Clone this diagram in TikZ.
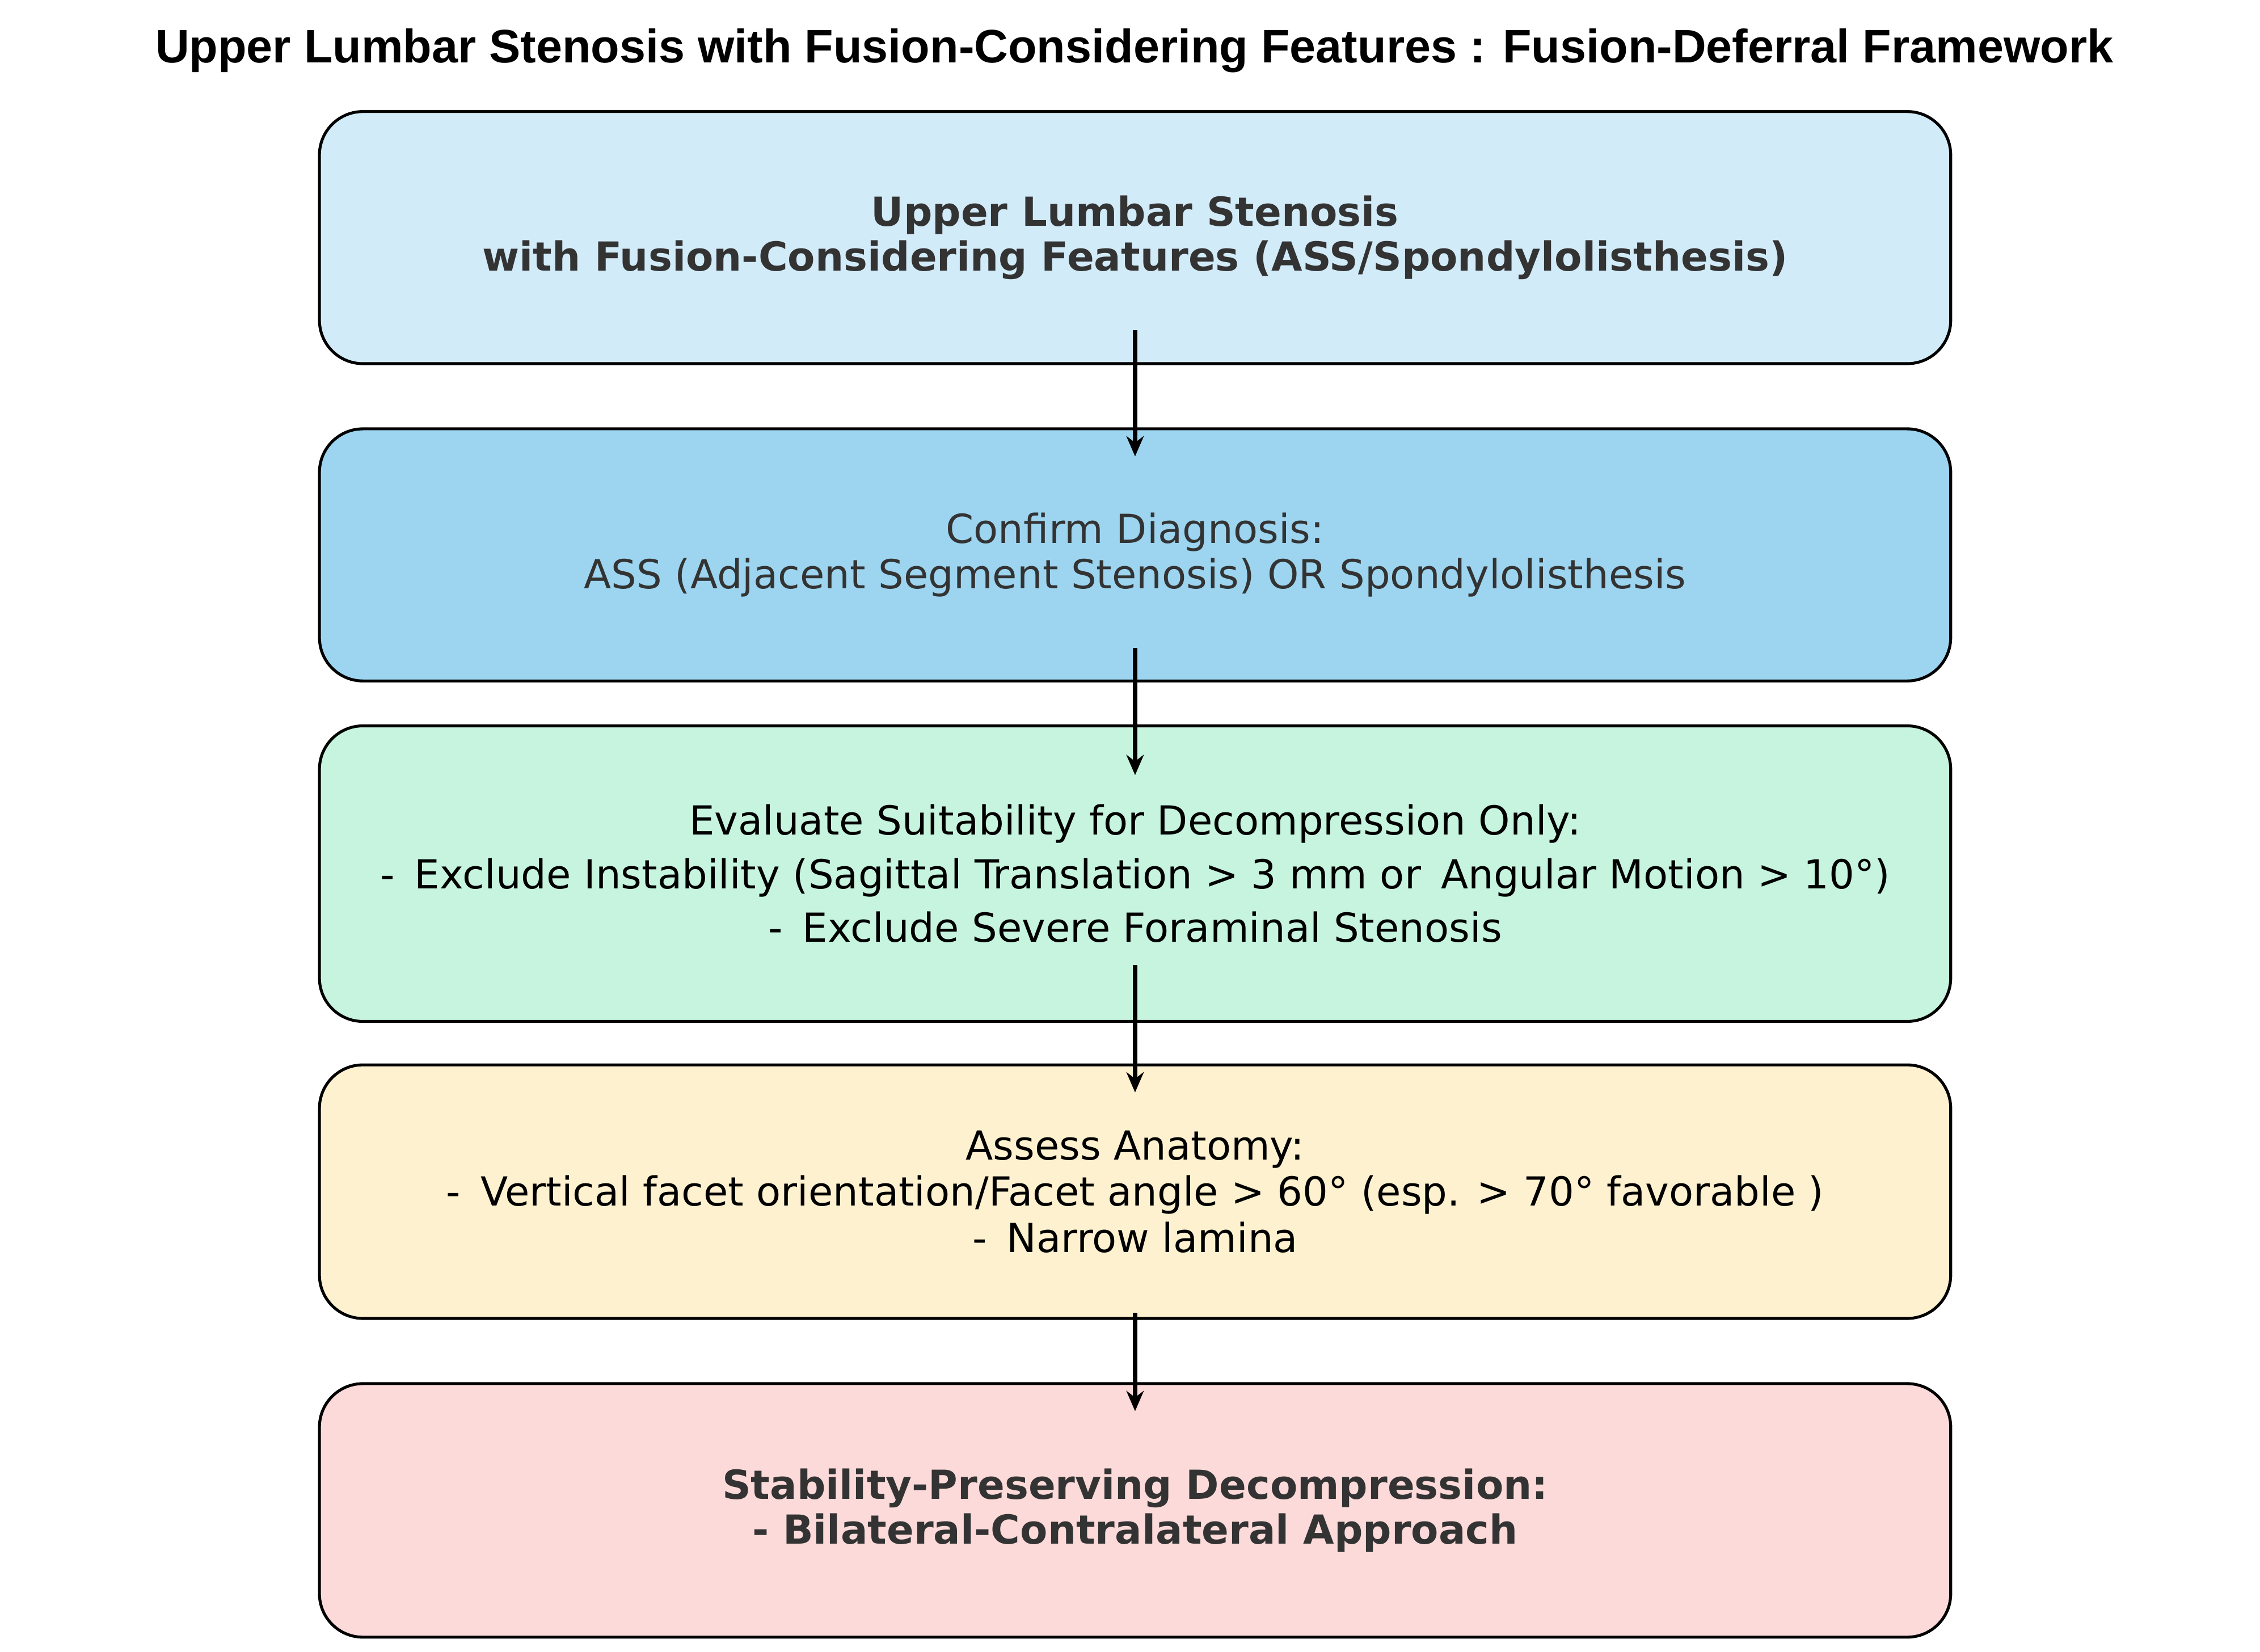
\documentclass[tikz,border=0pt]{standalone}
\usepackage{fontspec}
\setmainfont{DejaVu Sans}
\newfontfamily\titlefont{Liberation Sans}
\usetikzlibrary{arrows.meta}
\definecolor{boxA}{HTML}{D2EBF9}
\definecolor{boxB}{HTML}{9DD5F0}
\definecolor{boxC}{HTML}{C6F4DF}
\definecolor{boxD}{HTML}{FEF1CF}
\definecolor{boxE}{HTML}{FDDADA}
\definecolor{txt}{HTML}{333333}
\tikzset{every picture/.style={line width=1pt},
  stepbox/.style={draw=black, rounded corners=15pt, minimum width=563pt, align=center, font=\fontsize{13.8}{15.5}\selectfont, inner sep=0pt},
  flow/.style={line width=1.6pt, -{Stealth[length=7pt,width=6pt]}}}
\begin{document}
\begin{tikzpicture}[x=0.5pt,y=0.5pt,yscale=-1,xscale=1]
\useasboundingbox (0,0) rectangle (1560,1140);
\node (title) at (783,35) {\titlefont\bfseries\fontsize{16.2}{18}\selectfont Upper Lumbar Stenosis with Fusion-Considering Features : Fusion-Deferral Framework};
\node (b1) [stepbox, fill=boxA, minimum height=87pt, text=txt] at (783.5,164) {\bfseries Upper Lumbar Stenosis\\\bfseries with Fusion-Considering Features (ASS/Spondylolisthesis)};
\node (b2) [stepbox, fill=boxB, minimum height=87pt, text=txt] at (783.5,383) {Confirm Diagnosis:\\ASS (Adjacent Segment Stenosis) OR Spondylolisthesis};
\node (b3) [stepbox, fill=boxC, minimum height=102pt, font=\fontsize{13.8}{18.5}\selectfont] at (783.5,603) {Evaluate Suitability for Decompression Only:\\-\enspace Exclude Instability (Sagittal Translation > 3 mm or\enspace Angular Motion > 10°)\\-\enspace Exclude Severe Foraminal Stenosis};
\node (b4) [stepbox, fill=boxD, minimum height=87.5pt, font=\fontsize{13.8}{16}\selectfont] at (783.5,822.5) {Assess Anatomy:\\-\enspace Vertical facet orientation/Facet angle > 60° (esp. > 70° favorable )\\-\enspace Narrow lamina};
\node (b5) [stepbox, fill=boxE, minimum height=87.5pt, text=txt] at (783.5,1042.5) {\bfseries Stability-Preserving Decompression:\\\bfseries - Bilateral-Contralateral Approach};
% connectors
\draw[flow] ([yshift=-12pt]b1.south) -- ([yshift=10pt]b2.north);
\draw[flow] ([yshift=-12pt]b2.south) -- ([yshift=17.5pt]b3.north);
\draw[flow] ([yshift=-20pt]b3.south) -- ([yshift=10pt]b4.north);
\draw[flow] ([yshift=-2.5pt]b4.south) -- ([yshift=10pt]b5.north);
\end{tikzpicture}
\end{document}
